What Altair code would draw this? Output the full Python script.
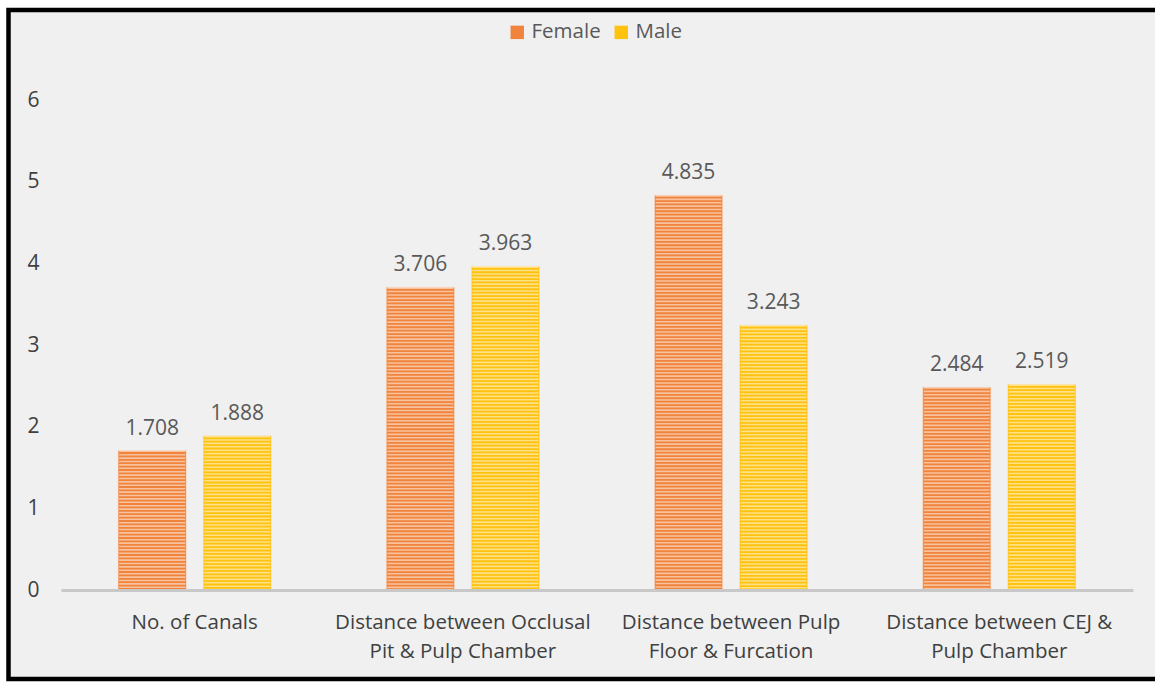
import altair as alt
import pandas as pd

categories = ["No. of Canals",
              "Distance between Occlusal\nPit & Pulp Chamber",
              "Distance between Pulp\nFloor & Furcation",
              "Distance between CEJ &\nPulp Chamber"]
female = [1.708, 3.706, 4.835, 2.484]
male = [1.888, 3.963, 3.243, 2.519]
series = ["Female", "Male"]
colors = ["#F0843C", "#FFC20E"]

rows = []
for c, f, m in zip(categories, female, male):
    rows.append({"cat": c, "gender": "Female", "value": f, "label": f"{f:.3f}"})
    rows.append({"cat": c, "gender": "Male", "value": m, "label": f"{m:.3f}"})
df = pd.DataFrame(rows)

FONT = "Open Sans"
W, H = 1072, 490

xenc = alt.X("cat:N", sort=categories, title=None,
             scale=alt.Scale(paddingInner=0.429, paddingOuter=0.213),
             axis=alt.Axis(labelExpr="split(datum.label, '\\n')", labelAngle=0,
                           labelFont=FONT, labelFontSize=20.5, labelColor="#404040",
                           labelPadding=22, labelLineHeight=29, ticks=False,
                           labelLimit=500,
                           domainColor="#C8C8C8", domainWidth=3, zindex=1))
xoff = alt.XOffset("gender:N", sort=series,
                   scale=alt.Scale(paddingInner=0.2, paddingOuter=0))
yenc = alt.Y("value:Q", title=None,
             scale=alt.Scale(domain=[0, 6], nice=False),
             axis=alt.Axis(values=[0, 1, 2, 3, 4, 5, 6], format="d", grid=False,
                           domain=False, ticks=False, labelFont=FONT, labelFontSize=21,
                           labelColor="#404040", labelPadding=22, zindex=1))
color = alt.Color("gender:N", sort=series,
                  scale=alt.Scale(domain=series, range=colors),
                  legend=alt.Legend(title=None, orient="none", legendX=446, legendY=-78,
                                    direction="horizontal", symbolType="square",
                                    symbolSize=180, labelFont=FONT, labelFontSize=20.5,
                                    labelColor="#595959", columnPadding=10,
                                    symbolStrokeWidth=0, zindex=1))

frame = alt.Chart(pd.DataFrame({"k": [0]})).mark_rect(
    fill="#EFF0EF", stroke="#000000", strokeWidth=4.5
).encode(x=alt.value(-52.5), x2=alt.value(1110), y=alt.value(-90), y2=alt.value(579))

bars = alt.Chart(df).mark_bar(stroke="#FBE3D0", strokeWidth=0.8, strokeOpacity=0.6).encode(
    x=xenc, xOffset=xoff, y=yenc, color=color
)

stripes = alt.Chart(df).mark_rule(
    color="#FFFFFF", opacity=0.5, strokeWidth=66, strokeDash=[1.6, 1.8], strokeCap="butt"
).encode(
    x=alt.X("cat:N", sort=categories), xOffset=alt.XOffset("gender:N", sort=series),
    y="value:Q", y2=alt.datum(0)
)

labels = alt.Chart(df).mark_text(
    baseline="bottom", dy=-12, font=FONT, fontSize=21, color="#595959"
).encode(
    x=alt.X("cat:N", sort=categories), xOffset=alt.XOffset("gender:N", sort=series),
    y="value:Q", text="label:N"
)

chart = alt.layer(frame, bars, stripes, labels).properties(
    width=W, height=H,
    padding={"left": 61, "top": 100, "right": 22, "bottom": 93},
    autosize=alt.AutoSizeParams(type="none"),
    background="#FFFFFF",
).configure_view(stroke=None)

chart.save("out.html", embed_options={"renderer": "svg", "actions": False})
